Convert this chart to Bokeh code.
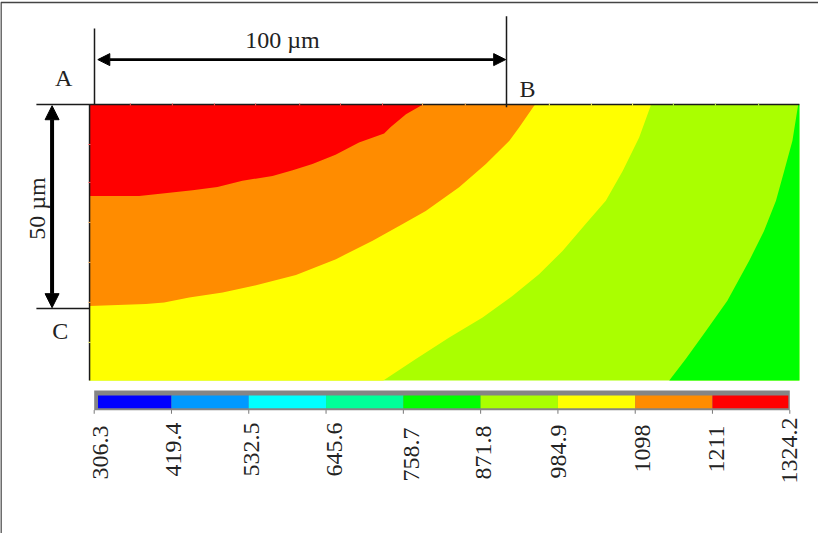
from bokeh.plotting import figure
from bokeh.models import Range1d, Arrow, NormalHead
from bokeh.core.properties import value
from bokeh.embed import file_html
from bokeh.resources import INLINE
import math

# Colour-scale levels and band colours (blue to red)
levels = [306.3, 419.4, 532.5, 645.6, 758.7, 871.8, 984.9, 1098.0, 1211.0, 1324.2]
level_labels = ["306.3", "419.4", "532.5", "645.6", "758.7", "871.8", "984.9", "1098", "1211", "1324.2"]
band_colors = ["#0000ff", "#0099ff", "#00ffff", "#00ff99", "#00ff00", "#aaff00", "#ffff00", "#ff8c00", "#ff0000"]

# Cross-section size in micrometres (depth grows downward)
plate_left, plate_right, plate_depth = -1.2, 171.1, 67.65

# Isotherm boundaries: x (um), depth (um)
iso_1211_x = [-1.2, 10.85, 16.5, 23.8, 29.85, 35.9, 43.2, 48.1, 52.9, 58.5, 64.2, 70.3, 71.9, 75.6, 79.2, 79.9]
iso_1211_y = [22.4, 22.4, 21.8, 21.0, 20.2, 18.7, 17.5, 16.1, 14.6, 12.3, 9.3, 7.1, 5.5, 2.4, 0.3, 0.0]
iso_1098_x = [-1.2, 12.45, 16.9, 23.0, 31.1, 39.2, 48.9, 58.6, 67.5, 74.8, 80.4, 88.5, 95.0, 100.7, 103.1, 106.7, 107.0]
iso_1098_y = [49.4, 48.9, 48.5, 47.3, 46.1, 44.3, 41.8, 37.9, 33.4, 29.3, 26.1, 20.3, 14.6, 8.9, 5.6, 0.3, 0.0]
iso_985_x = [135.1, 135.0, 132.2, 128.2, 124.1, 119.2, 113.6, 107.9, 101.5, 94.2, 86.1, 78.0, 70.1]
iso_985_y = [0.0, 0.3, 8.1, 16.3, 23.6, 29.3, 35.9, 41.6, 46.9, 52.2, 57.1, 62.4, 67.65]
iso_872_x = [170.8, 169.4, 167.4, 165.4, 162.5, 158.9, 153.6, 148.4, 143.5, 139.5]
iso_872_y = [0.0, 8.9, 16.3, 23.6, 31.0, 38.3, 48.1, 55.5, 62.4, 67.65]

# Small mesh marks on the top and left edges
top_marks = [8.7, 18.9, 29.1, 39.1, 49.8, 59.7, 69.9, 79.6, 90.0, 110.4, 120.6, 130.6, 140.5, 150.7, 161.2]
top_mark_colors = ["#ff5050"] * 7 + ["#ffb050"] * 2 + ["#ffff60"] * 3 + ["#c8ff50"] * 3
left_marks = [9.8, 19.1, 28.9, 38.7, 48.5, 58.3]
left_mark_colors = ["#ff5050", "#ff5050", "#ffb050", "#ffb050", "#ffb050", "#ffff60"]

# Hand offsets of the rotated scale labels (screen pixels)
label_dx = [6.3, 2, 2.7, 8, 7.7, 3.3, 1, 7, 4, 0]
label_dy = [1, -2, -2, -2, 3, 1, 0, 0, 1, -7]

FONT = value("Liberation Serif")
DARK = "#1a1a1a"
TEXT = "#222222"

p = figure(width=818, height=533, output_backend="svg", toolbar_location=None,
           x_range=Range1d(-22.816, 175.728), y_range=Range1d(105.147, -25.49),
           x_axis_location=None, y_axis_location=None,
           min_border=0, min_border_left=0, min_border_right=0, min_border_top=0, min_border_bottom=0,
           outline_line_color=None, background_fill_color="white", border_fill_color="white",
           extra_x_ranges={"temp": Range1d(169.2, 1366.2)})
p.grid.visible = False

# Contour bands, painted from the coolest outward
p.quad(left=[plate_left], right=[plate_right], top=[0], bottom=[plate_depth], fill_color=band_colors[5], line_color=None)
p.patch(iso_872_x + [plate_right, plate_right], iso_872_y + [plate_depth, 0], fill_color=band_colors[4], line_color=None)
p.patch([plate_left, plate_left] + iso_985_x[::-1], [0, plate_depth] + iso_985_y[::-1], fill_color=band_colors[6], line_color=None)
p.patch(iso_1098_x + [plate_left], iso_1098_y + [0], fill_color=band_colors[7], line_color=None)
p.patch(iso_1211_x + [plate_left], iso_1211_y + [0], fill_color=band_colors[8], line_color=None)

# Outer frame of the picture (left and top only)
p.line([-22.7, -22.7, 175.728], [105.147, -25.0, -25.0], line_color="#444444", line_width=1.6)

# Reference lines
p.segment(x0=[-14.1, -14.1, plate_left], y0=[0, 50, 0], x1=[plate_right, plate_left, plate_left], y1=[0, 50, plate_depth],
          line_color=DARK, line_width=1.5)
p.segment(x0=[0, 100], y0=[-18.6, -21.6], x1=[0, 100], y1=[0, 0.7], line_color=DARK, line_width=1.5)

# Mesh marks
p.segment(x0=top_marks, y0=[-0.25] * len(top_marks), x1=top_marks, y1=[0.25] * len(top_marks),
          line_color=top_mark_colors, line_width=1)
p.segment(x0=[plate_left - 0.25] * len(left_marks), y0=left_marks, x1=[plate_left + 0.25] * len(left_marks), y1=left_marks,
          line_color=left_mark_colors, line_width=1)

# Dimension arrows
p.add_layout(Arrow(start=NormalHead(size=12, fill_color="black", line_color="black", line_width=1),
                   end=NormalHead(size=12, fill_color="black", line_color="black", line_width=1),
                   x_start=0.8, y_start=-11, x_end=99.8, y_end=-11, line_color="black", line_width=2.6))
p.add_layout(Arrow(start=NormalHead(size=14, fill_color="black", line_color="black", line_width=1),
                   end=NormalHead(size=14, fill_color="black", line_color="black", line_width=1),
                   x_start=-10.3, y_start=0.3, x_end=-10.3, y_end=49.8, line_color="black", line_width=4))

# Colour bar
p.quad(left=[levels[0]], right=[levels[-1]], top=[70.1], bottom=[74.93], fill_color="#858585", line_color=None, x_range_name="temp")
bar_left = list(levels[:-1])
bar_right = list(levels[1:])
bar_left[0] += 5.6
bar_right[-1] -= 2.2
p.quad(left=bar_left, right=bar_right, top=[71.32] * 9, bottom=[74.44] * 9, fill_color=band_colors, line_color=None, x_range_name="temp")
p.segment(x0=levels, y0=[74.9] * 10, x1=levels, y1=[75.8] * 10, line_color="#777777", line_width=1, x_range_name="temp")

# Rotated scale labels
p.text(x=levels, y=[78.43] * 10, text=level_labels, angle=math.pi / 2, text_align="right", text_baseline="middle",
       x_offset=label_dx, y_offset=label_dy, text_font=FONT, text_font_size="24px", text_color=TEXT, x_range_name="temp")

# Annotations
p.text(x=[45.6], y=[-15.7], text=["100 µm"], text_align="center", text_baseline="middle", text_font=FONT, text_font_size="24px", text_color=TEXT)
p.text(x=[-13.9], y=[25.5], text=["50 µm"], angle=math.pi / 2, text_align="center", text_baseline="middle", text_font=FONT, text_font_size="24px", text_color=TEXT)
p.text(x=[-7.5, 105.1, -8.3], y=[-6.4, -3.7, 55.4], text=["A", "B", "C"], text_align="center", text_baseline="middle",
       text_font=FONT, text_font_size="24px", text_color=TEXT)

open("out.html", "w").write(file_html(p, INLINE))
